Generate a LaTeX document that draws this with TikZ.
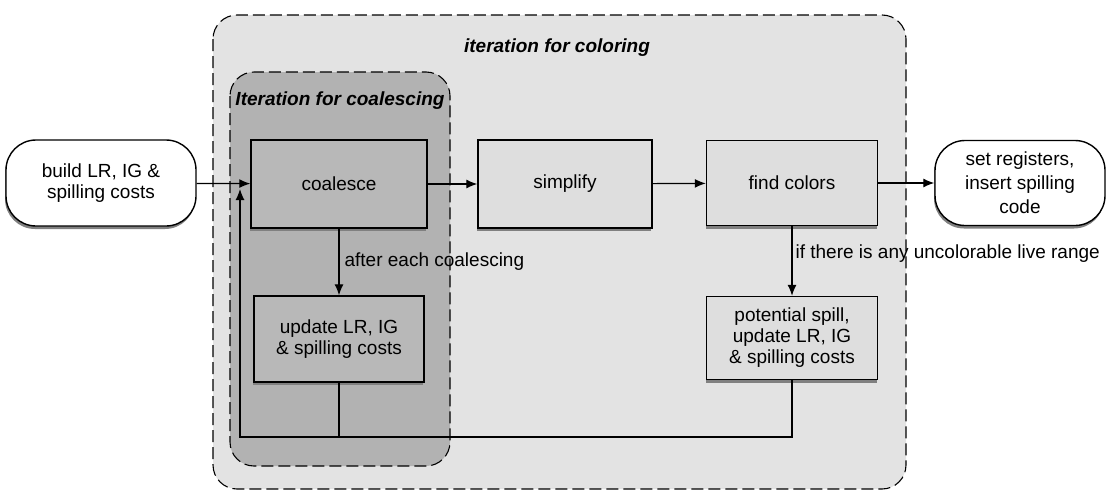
\documentclass[tikz,border=0pt]{standalone}
\usepackage{fontspec}
\setmainfont{Liberation Sans}
\usetikzlibrary{arrows.meta,shadows}
\definecolor{lightbox}{gray}{0.87}
\definecolor{darkbox}{gray}{0.72}
\begin{document}
\begin{tikzpicture}[x=1pt,y=-1pt,
  font=\fontsize{19}{21}\selectfont,
  dshadow/.style={drop shadow={shadow xshift=-1pt, shadow yshift=-3pt, opacity=1, fill=black!50}},
  proc/.style={draw=black, line width=1.4pt, minimum width=172pt, minimum height=86pt, align=center, inner sep=2pt, dshadow},
  term/.style={draw=black, line width=1.4pt, fill=white, rounded corners=30pt, minimum width=190pt, minimum height=86pt, align=center, inner sep=2pt, dshadow},
  flow/.style={-{Latex[length=11pt,width=9pt]}, line width=1.2pt},
  link/.style={line width=1.2pt},
  region/.style={dash pattern=on 12pt off 5pt, line width=1.1pt, rounded corners=24pt},
  ttl/.style={font=\fontsize{19}{21}\selectfont\bfseries\itshape}
]
\useasboundingbox (0,0) rectangle (1107,490);
% regions
\draw[region, fill=black!11] (213,15) rectangle (906,489);
\node[ttl] (tcol) at (557,48) {iteration for coloring};
\draw[region, fill=black!30] (230,72) rectangle (450,466);
\node[ttl] (tcoa) at (340,101) {Iteration for coalescing};
% nodes
\node[term] (build) at (101,183) {build LR, IG \&\\spilling costs};
\node[proc, fill=darkbox, minimum width=176pt, minimum height=88pt] (coal) at (339,184) {coalesce};
\node[proc, fill=lightbox, minimum width=174pt, minimum height=88pt] (simp) at (565,184) {simplify};
\node[proc, fill=lightbox, minimum width=171pt, minimum height=85pt] (find) at (792,183) {find colors};
\node[term, minimum width=170pt, minimum height=85pt, font=\fontsize{19}{24}\selectfont] (set) at (1020,183) {set registers,\\insert spilling\\code};
\node[proc, fill=darkbox, minimum width=170pt] (upd) at (339,339) {update LR, IG\\\& spilling costs};
\node[proc, fill=lightbox, minimum width=171pt, minimum height=83pt] (pot) at (792,338) {potential spill,\\update LR, IG\\\& spilling costs};
% connectors
\coordinate (loopL) at (240,437);
\coordinate (loopR) at (792,437);
\coordinate (loopTop) at (240,189);
\draw[flow] (build) -- (coal);
\draw[flow] (coal) -- (simp);
\draw[flow] (simp) -- (find);
\draw[flow] (find) -- (set);
\draw[flow] (coal) -- node[pos=0.5, right, inner sep=5pt] (lab1) {after each coalescing} (upd);
\draw[flow] (find) -- node[pos=0.4, right, inner sep=3pt] (lab2) {if there is any uncolorable live range} (pot);
\draw[link] (upd.south) -- (upd.south |- loopL);
\draw[flow] (pot.south) -- (loopR) -- (loopL) -- (loopTop);
\end{tikzpicture}
\end{document}
